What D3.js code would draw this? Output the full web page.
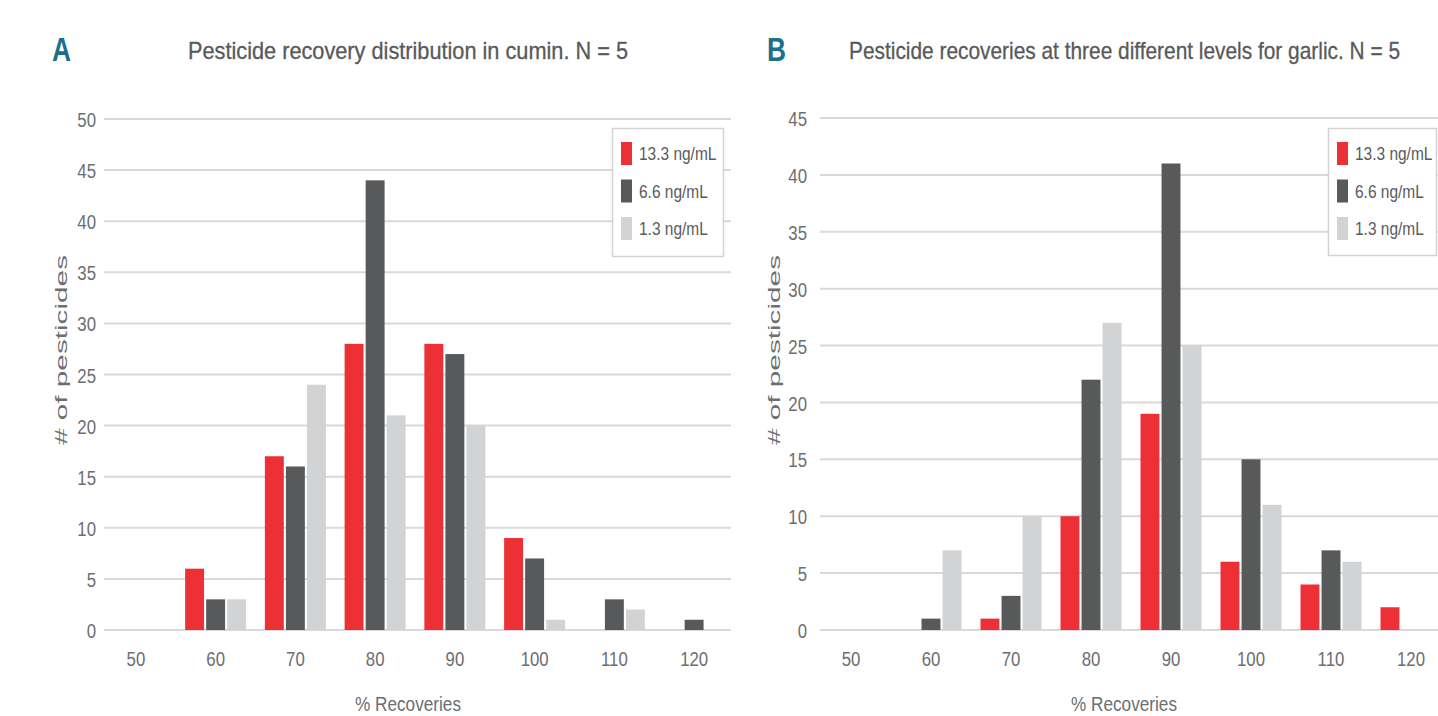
<!DOCTYPE html>
<html>
<head>
<meta charset="utf-8">
<script src="https://cdn.jsdelivr.net/npm/d3@7/dist/d3.min.js"></script>
<style>
  html, body { margin: 0; padding: 0; background: #fff; }
  svg { display: block; }
  text { font-family: "Liberation Sans", Arial, Helvetica, sans-serif; fill: #5a5b5d; }
</style>
</head>
<body>
<svg id="chart" width="1438" height="716"></svg>
<script>
// Recovery bins (% recovery), shared by both panels
const categories = ["50", "60", "70", "80", "90", "100", "110", "120"];
const seriesNames = ["13.3 ng/mL", "6.6 ng/mL", "1.3 ng/mL"];
const seriesColors = ["#ed2f36", "#58595b", "#d1d3d4"];

// Panel A: cumin, number of pesticides per recovery bin
const cuminHigh = [0, 6, 17, 28, 28, 9, 0, 0];
const cuminMid  = [0, 3, 16, 44, 27, 7, 3, 1];
const cuminLow  = [0, 3, 24, 21, 20, 1, 2, 0];

// Panel B: garlic, number of pesticides per recovery bin
const garlicHigh = [0, 0, 1, 10, 19, 6, 4, 2];
const garlicMid  = [0, 1, 3, 22, 41, 15, 7, 0];
const garlicLow  = [0, 7, 10, 27, 25, 11, 6, 0];

const yTicksA = d3.range(0, 51, 5);
const yTicksB = d3.range(0, 46, 5);

const panels = [
  {
    letter: "A",
    title: "Pesticide recovery distribution in cumin. N = 5",
    series: [cuminHigh, cuminMid, cuminLow],
    yMax: 50, yTicks: yTicksA,
    letterX: 52, titleX: 188, titleLen: 440,
    xRange: [96, 734], gridX: [104, 731],
    yRange: [630, 119], tickLabelX: 96,
    yTitleX: 67, xTitleX: 408,
    legend: { x: 612, y: 128, w: 111, h: 128 }
  },
  {
    letter: "B",
    title: "Pesticide recoveries at three different levels for garlic. N = 5",
    series: [garlicHigh, garlicMid, garlicLow],
    yMax: 45, yTicks: yTicksB,
    letterX: 767, titleX: 849, titleLen: 551,
    xRange: [811, 1451], gridX: [820, 1438],
    yRange: [630, 118], tickLabelX: 807,
    yTitleX: 780, xTitleX: 1124,
    legend: { x: 1328, y: 128, w: 108, h: 127 }
  }
];

const svg = d3.select("#chart");
const squeeze = 0.8;

panels.forEach(p => {
  const g = svg.append("g");

  const x = d3.scaleBand().domain(categories).range(p.xRange);
  const sub = d3.scaleBand().domain(seriesNames).range([-30.5, 30.5]).paddingInner(0.1);
  const y = d3.scaleLinear().domain([0, p.yMax]).range(p.yRange);

  // Panel letter and title
  g.append("text")
    .attr("x", p.letterX).attr("y", 61)
    .attr("textLength", 19).attr("lengthAdjust", "spacingAndGlyphs")
    .style("font-size", "33px").style("font-weight", "bold").style("fill", "#1d6f8e")
    .text(p.letter);
  g.append("text")
    .attr("x", p.titleX).attr("y", 59)
    .attr("textLength", p.titleLen).attr("lengthAdjust", "spacingAndGlyphs")
    .style("font-size", "24px").style("fill", "#58595b")
    .style("stroke", "#58595b").style("stroke-width", 0.3)
    .text(p.title);

  // Horizontal gridlines at each y tick
  g.append("g").selectAll("line")
    .data(p.yTicks)
    .join("line")
    .attr("x1", p.gridX[0]).attr("x2", p.gridX[1])
    .attr("y1", d => y(d)).attr("y2", d => y(d))
    .attr("stroke", "#d9d9d9").attr("stroke-width", 2);

  // Y axis labels
  const yAxis = d3.axisLeft(y).tickValues(p.yTicks).tickSize(0).tickPadding(0);
  const yg = g.append("g").attr("transform", `translate(${p.tickLabelX},0)`).call(yAxis);
  yg.select(".domain").remove();
  yg.selectAll("text")
    .attr("x", 0).attr("dy", "0.36em")
    .attr("transform", `scale(${squeeze},1)`)
    .style("font-size", "21px").style("font-family", "Liberation Sans, Arial, sans-serif")
    .style("fill", "#6d6e71");

  // X axis labels
  const xAxis = d3.axisBottom(x).tickSize(0).tickPadding(0);
  const xg = g.append("g").call(xAxis);
  xg.select(".domain").remove();
  xg.selectAll("text")
    .attr("y", 0).attr("dy", "0.71em")
    .attr("transform", `scale(${squeeze},1)`)
    .style("font-size", "21px").style("font-family", "Liberation Sans, Arial, sans-serif")
    .style("fill", "#6d6e71");
  // place each tick at its band centre on the label row
  xg.selectAll(".tick")
    .attr("transform", d => `translate(${x(d) + x.bandwidth() / 2},651)`);

  // Grouped bars
  const rows = categories.map((c, i) => ({ cat: c, vals: p.series.map((s, k) => ({ k, v: s[i] })) }));
  g.append("g").selectAll("g")
    .data(rows)
    .join("g")
    .attr("transform", d => `translate(${x(d.cat) + x.bandwidth() / 2},0)`)
    .selectAll("rect")
    .data(d => d.vals.filter(e => e.v > 0))
    .join("rect")
    .attr("x", d => sub(seriesNames[d.k]))
    .attr("width", sub.bandwidth())
    .attr("y", d => y(d.v))
    .attr("height", d => y(0) - y(d.v))
    .attr("fill", d => seriesColors[d.k]);

  // Axis titles
  g.append("text")
    .attr("transform", `translate(${p.yTitleX},350) scale(${squeeze},1) rotate(-90)`)
    .attr("text-anchor", "middle")
    .attr("textLength", 190).attr("lengthAdjust", "spacingAndGlyphs")
    .style("font-size", "21px").style("fill", "#6d6e71")
    .text("# of pesticides");
  g.append("text")
    .attr("x", p.xTitleX - 53).attr("y", 711)
    .attr("textLength", 106).attr("lengthAdjust", "spacingAndGlyphs")
    .style("font-size", "21px").style("fill", "#6d6e71")
    .text("% Recoveries");

  // Legend
  const L = p.legend;
  const lg = g.append("g").attr("transform", `translate(${L.x},${L.y})`);
  lg.append("rect")
    .attr("x", 0.5).attr("y", 0.5).attr("width", L.w).attr("height", L.h)
    .attr("fill", "#fff").attr("stroke", "#d3d3d3").attr("stroke-width", 1.5);
  const items = lg.selectAll("g.item")
    .data(seriesNames)
    .join("g")
    .attr("class", "item")
    .attr("transform", (d, i) => `translate(9,${14 + i * 37.5})`);
  items.append("rect")
    .attr("width", 11).attr("height", 23)
    .attr("fill", (d, i) => seriesColors[i]);
  items.append("text")
    .attr("transform", `translate(18,18) scale(0.86,1)`)
    .style("font-size", "18px").style("fill", "#5a5b5d")
    .text(d => d);
});
</script>
</body>
</html>
